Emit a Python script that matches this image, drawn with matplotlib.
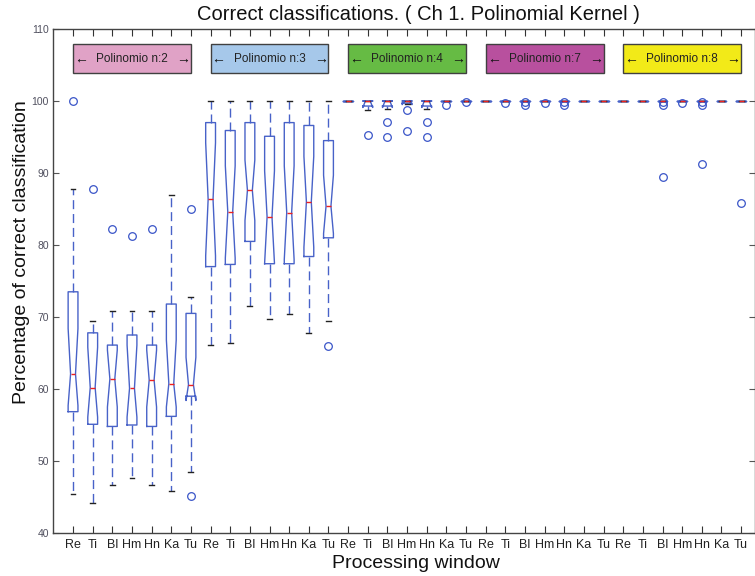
import matplotlib
matplotlib.use("Agg")
import matplotlib.pyplot as plt
from matplotlib.patches import Rectangle

plt.rcParams["font.family"] = ["Liberation Sans", "DejaVu Sans"]

# ------------------------------------------------------------------
# data
# ------------------------------------------------------------------
WINDOWS = ["Re", "Ti", "Bl", "Hm", "Hn", "Ka", "Tu"]
GROUPS = ["Polinomio n:2", "Polinomio n:3", "Polinomio n:4",
          "Polinomio n:7", "Polinomio n:8"]
GROUP_COLORS = ["#e0a2c6", "#a6c8ea", "#66bb44", "#b8509e", "#f2ea18"]

med = [62.1, 60.2, 61.4, 60.1, 61.25, 60.75, 60.6,
       86.35, 84.6, 87.6, 83.9, 84.5, 86.0, 85.4,
       100, 100, 100, 100, 100, 100, 100,
       100, 100, 100, 100, 100, 100, 100,
       100, 100, 100, 100, 100, 100, 100]
q1 = [56.85, 55.1, 54.8, 55.0, 54.8, 56.2, 59.0,
      77.0, 77.3, 80.5, 77.4, 77.4, 78.4, 81.0,
      100, 99.3, 99.3, 99.7, 99.3, 100, 100,
      100, 100, 100, 100, 100, 100, 100,
      100, 100, 100, 100, 100, 100, 100]
q3 = [73.5, 67.8, 66.1, 67.5, 66.1, 71.8, 70.5,
      97.0, 95.9, 97.0, 95.1, 97.0, 96.6, 94.5,
      100, 100, 100, 100, 100, 100, 100,
      100, 100, 100, 100, 100, 100, 100,
      100, 100, 100, 100, 100, 100, 100]
whislo = [45.4, 44.2, 46.7, 47.6, 46.7, 45.8, 48.5,
          66.1, 66.4, 71.5, 69.7, 70.4, 67.8, 69.4,
          100, 98.8, 98.9, 99.6, 98.9, 100, 100,
          100, 100, 100, 100, 100, 100, 100,
          100, 100, 100, 100, 100, 100, 100]
whishi = [87.8, 69.4, 70.8, 70.8, 70.8, 86.9, 72.8,
          100, 100, 100, 100, 100, 100, 100,
          100, 100, 100, 100, 100, 100, 100,
          100, 100, 100, 100, 100, 100, 100,
          100, 100, 100, 100, 100, 100, 100]
cilo = [57.7, 56.1, 57.5, 56.1, 57.5, 57.5, 58.4,
        78.5, 78.2, 83.4, 77.5, 78.0, 79.7, 81.6,
        100, 99.1, 99.1, 99.5, 99.1, 100, 100,
        100, 100, 100, 100, 100, 100, 100,
        100, 100, 100, 100, 100, 100, 100]
cihi = [68.4, 65.8, 65.4, 66.1, 65.4, 66.8, 64.4,
        94.2, 91.0, 91.8, 90.3, 91.0, 92.3, 89.7,
        100, 100, 100, 100, 100, 100, 100,
        100, 100, 100, 100, 100, 100, 100,
        100, 100, 100, 100, 100, 100, 100]
fliers = [[100], [87.8], [82.2], [81.3], [82.2], [], [85.0, 45.2],
          [], [], [], [], [], [], [66.0],
          [], [95.3], [97.1, 95.0], [98.75, 95.8], [97.1, 95.0], [99.4], [99.8],
          [], [99.7], [99.8, 99.4], [99.7], [99.8, 99.4], [], [],
          [], [], [99.8, 99.4, 89.4], [99.7], [99.8, 99.4, 91.3], [], [85.9]]

# ------------------------------------------------------------------
# figure
# ------------------------------------------------------------------
W, H = 755, 576
fig = plt.figure(figsize=(W / 100, H / 100), dpi=100, facecolor="white")
ax = fig.add_axes([53 / W, (H - 533) / H, 701.5 / W, 504 / H])

stats = []
for i in range(len(med)):
    stats.append(dict(med=med[i], q1=q1[i], q3=q3[i],
                      whislo=whislo[i], whishi=whishi[i],
                      cilo=cilo[i], cihi=cihi[i], fliers=fliers[i]))

BLUE = "#4862c8"
positions = list(range(1, len(med) + 1))
ax.bxp(stats, positions=positions, widths=0.5, capwidths=0.25,
       shownotches=True, manage_ticks=False,
       boxprops=dict(color=BLUE, linewidth=1.0),
       whiskerprops=dict(color=BLUE, linewidth=1.0, linestyle=(0, (6.5, 3.5))),
       capprops=dict(color="#222222", linewidth=1.0),
       medianprops=dict(color="#ee2020", linewidth=1.0),
       flierprops=dict(marker="o", markerfacecolor="none",
                       markeredgecolor="#3a55c8", markersize=5.5,
                       markeredgewidth=0.9, linestyle="none"))

# group labels
for g, (name, col) in enumerate(zip(GROUPS, GROUP_COLORS)):
    x0 = g * 7 + 1
    x1 = g * 7 + 7
    ax.add_patch(Rectangle((x0, 103.9), x1 - x0, 4.0, facecolor=col,
                           edgecolor="#404040", linewidth=1.0, zorder=3))
    ax.text((x0 + x1) / 2, 105.9, name, ha="center", va="center",
            fontsize=8.5, color="#222222", zorder=4)
    ax.text(x0 + 0.05, 105.9, "\u2190", ha="left", va="center",
            fontsize=10, color="#111111", zorder=4)
    ax.text(x1 - 0.05, 105.9, "\u2192", ha="right", va="center",
            fontsize=10, color="#111111", zorder=4)

ax.set_xlim(-0.02, 35.68)
ax.set_ylim(40, 110)
ax.set_xticks(positions)
ax.set_xticklabels(WINDOWS * len(GROUPS), fontsize=9, color="#222222")
ax.set_yticks(range(40, 111, 10))
ax.tick_params(axis="y", direction="in", right=True, length=4,
               labelsize=7.5, labelcolor="#50505f", color="#555555", pad=3)
ax.tick_params(axis="x", direction="in", top=True, length=5,
               color="#333333", pad=4)
for sp in ax.spines.values():
    sp.set_color("#444444")
    sp.set_linewidth(1.0)

fig.text(418 / W, 1 - 15 / H,
         "Correct classifications. ( Ch 1. Polinomial Kernel )",
         ha="center", va="center", fontsize=14.5, color="#111111")
fig.text(416 / W, 1 - 563 / H, "Processing window",
         ha="center", va="center", fontsize=14, color="#111111")
fig.text(22 / W, 1 - 252 / H, "Percentage of correct classification",
         ha="center", va="center", rotation=90, fontsize=14,
         color="#111111")

fig.savefig("out.png", dpi=100, facecolor="white")
